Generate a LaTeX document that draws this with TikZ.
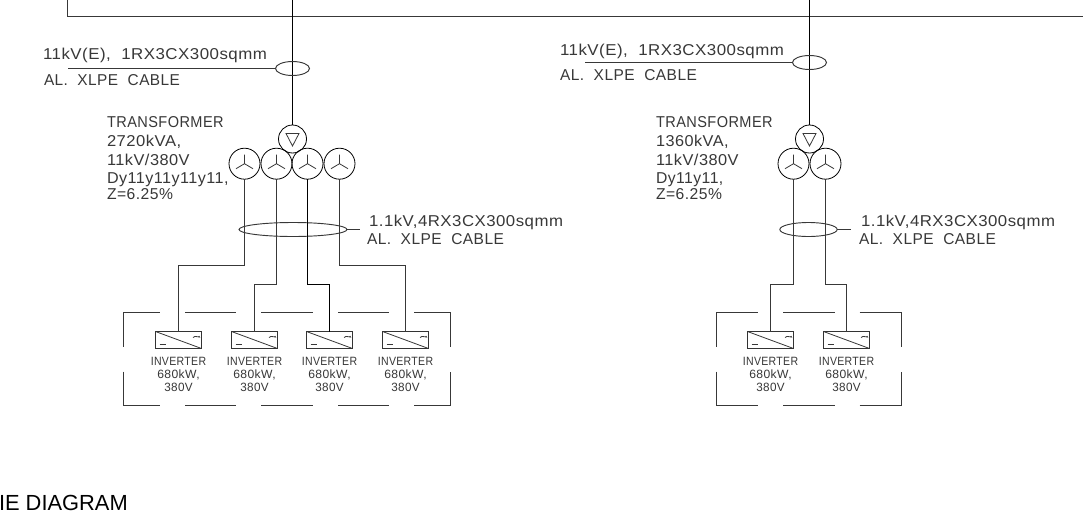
\documentclass[tikz,border=0pt]{standalone}
\usepackage{fontspec}
\usepackage{graphicx}
\setmainfont{Liberation Sans}
\newfontfamily\cadfont[LetterSpace=3]{Liberation Sans}
\usetikzlibrary{shapes.geometric}
\definecolor{ink}{gray}{0.22}
\newcommand{\fitw}[2]{\resizebox{#1pt}{\height}{#2}}
\tikzset{
  wire/.style={draw=ink,line width=0.8pt},
  hv/.style={draw=black,line width=0.75pt},
  thinw/.style={draw=ink,line width=0.6pt},
  lbl/.style={inner sep=0,outer sep=0,anchor=base west,text=ink,font=\cadfont\fontsize{11.8pt}{13pt}\selectfont},
  invlbl/.style={inner sep=0,outer sep=0,anchor=base,text=ink,font=\cadfont\fontsize{9pt}{10pt}\selectfont},
  prim/.style={circle,draw=black,line width=0.6pt,minimum size=21pt,inner sep=0,outer sep=0},
  sec/.style={circle,draw=black,line width=0.6pt,minimum size=23.25pt,inner sep=0,outer sep=0},
  cable/.style={ellipse,draw=ink,line width=0.7pt,inner sep=0,outer sep=0},
  invbox/.style={rectangle,draw=black!80,line width=0.75pt,minimum width=34.5pt,minimum height=12.75pt,inner sep=0,outer sep=0},
}
\newcommand{\wyesym}[1]{%
  \draw[thinw] (#1.center) -- ++(0,-9) (#1.center) -- ++(-8.5,5) (#1.center) -- ++(8.5,5);}
\newcommand{\deltasym}[1]{%
  \draw[thinw] ([shift={(-6.5,-5.5)}]#1.center) -- ([shift={(6.5,-5.5)}]#1.center) -- ([shift={(0,7)}]#1.center) -- cycle;}
\newcommand{\invsym}[1]{%
  \draw[thinw] (#1.north west) -- (#1.south east);
  \draw[thinw] ([shift={(4,-4)}]#1.south west) -- ++(6,0);
  \draw[thinw] ([shift={(-8.5,6)}]#1.north east) .. controls +(1.5,-3) and +(3,3) .. ++(6,-1.5);}
\begin{document}
\begin{tikzpicture}[x=0.75pt,y=-0.75pt]
\useasboundingbox (0,0) rectangle (1083,518);
\fill[white] (0,0) rectangle (1083,518);
% bus
\coordinate (busA) at (67.5,0);
\coordinate (busB) at (67.5,16.5);
\coordinate (busC) at (1083,16.5);
\draw[wire] (busA) -- (busB) -- (busC);
\coordinate (feedL) at (292.5,0);
\coordinate (feedR) at (809.5,0);
% left transformer
\node[prim] (tp1) at (292.5,139) {};
\node[sec] (s1) at (244.5,163.7) {};
\node[sec] (s2) at (276.5,163.7) {};
\node[sec] (s3) at (307.5,163.7) {};
\node[sec] (s4) at (339.5,163.7) {};
\deltasym{tp1}
\wyesym{s1}\wyesym{s2}\wyesym{s3}\wyesym{s4}
\draw[hv] (feedL) -- (tp1.north);
\node[cable,minimum width=25.5pt,minimum height=10.5pt] (c1) at (292.5,68.5) {};
\coordinate (c1end) at (68,68.5);
\draw[wire] (c1.west) -- (c1end);
\node[cable,minimum width=81pt,minimum height=10.5pt] (c2) at (293,229.5) {};
\coordinate (c2end) at (360,229.5);
\draw[wire] (c2.east) -- (c2end);
% left inverters
\node[invbox] (i1) at (178.5,340) {};
\node[invbox] (i2) at (254.5,340) {};
\node[invbox] (i3) at (329.5,340) {};
\node[invbox] (i4) at (405.5,340) {};
\invsym{i1}\invsym{i2}\invsym{i3}\invsym{i4}
\draw[wire] (s1.south) |- (i1.north |- 0,265.5) -- (i1.north);
\draw[wire] (s2.south) |- (i2.north |- 0,284.5) -- (i2.north);
\draw[hv]   (s3.south) |- (i3.north |- 0,284.5) -- (i3.north);
\draw[wire] (s4.south) |- (i4.north |- 0,265.5) -- (i4.north);
% left frame
\draw[wire] (123.5,346.7) -- (123.5,312.5) -- (160,312.5);
\draw[wire] (185,312.5) -- (236,312.5) (261,312.5) -- (313,312.5) (338,312.5) -- (389,312.5);
\draw[wire] (414,312.5) -- (450.5,312.5) -- (450.5,346.7);
\draw[wire] (123.5,371.7) -- (123.5,405.5) -- (160,405.5);
\draw[wire] (185,405.5) -- (236,405.5) (261,405.5) -- (313,405.5) (338,405.5) -- (389,405.5);
\draw[wire] (414,405.5) -- (450.5,405.5) -- (450.5,371.7);
% right transformer
\node[prim] (tp2) at (809.5,139) {};
\node[sec] (r1) at (793.5,163.7) {};
\node[sec] (r2) at (825.5,163.7) {};
\deltasym{tp2}
\wyesym{r1}\wyesym{r2}
\draw[hv] (feedR) -- (tp2.north);
\node[cable,minimum width=25.5pt,minimum height=10.5pt] (c3) at (809.5,62.5) {};
\coordinate (c3end) at (585,62.5);
\draw[wire] (c3.west) -- (c3end);
\node[cable,minimum width=43pt,minimum height=10.5pt] (c4) at (808.5,229.5) {};
\coordinate (c4end) at (851,229.5);
\draw[wire] (c4.east) -- (c4end);
\node[invbox] (j1) at (770.5,340) {};
\node[invbox] (j2) at (846.5,340) {};
\invsym{j1}\invsym{j2}
\draw[wire] (r1.south) |- (j1.north |- 0,284.5) -- (j1.north);
\draw[wire] (r2.south) |- (j2.north |- 0,284.5) -- (j2.north);
% right frame
\draw[wire] (716.5,346.7) -- (716.5,312.5) -- (758.3,312.5);
\draw[wire] (783,312.5) -- (835,312.5);
\draw[wire] (859.7,312.5) -- (901.5,312.5) -- (901.5,346.7);
\draw[wire] (716.5,371.7) -- (716.5,405.5) -- (758.3,405.5);
\draw[wire] (783,405.5) -- (835,405.5);
\draw[wire] (859.7,405.5) -- (901.5,405.5) -- (901.5,371.7);
% left text
\node[lbl] (t1) at (43,59.5) {\fitw{168}{11kV(E),\ \ 1RX3CX300sqmm}};
\node[lbl] (t2) at (44,85.5) {\fitw{102}{AL.\ \ XLPE\ \ CABLE}};
\node[lbl] (t3) at (107,127) {\fitw{87.5}{TRANSFORMER}};
\node[lbl] (t4) at (107,146.5) {\fitw{55.7}{2720kVA,}};
\node[lbl] (t5) at (107,165.5) {\fitw{62}{11kV/380V}};
\node[lbl] (t6) at (107,183) {\fitw{91.2}{Dy11y11y11y11,}};
\node[lbl] (t7) at (107,199.5) {\fitw{49.5}{Z=6.25\%}};
\node[lbl] (t8) at (369,226) {\fitw{145.5}{1.1kV,4RX3CX300sqmm}};
\node[lbl] (t9) at (367,244) {\fitw{102.7}{AL.\ \ XLPE\ \ CABLE}};
% right text
\node[lbl] (u1) at (560,55) {\fitw{168}{11kV(E),\ \ 1RX3CX300sqmm}};
\node[lbl] (u2) at (560,80.7) {\fitw{102.7}{AL.\ \ XLPE\ \ CABLE}};
\node[lbl] (u3) at (656,127) {\fitw{87.5}{TRANSFORMER}};
\node[lbl] (u4) at (656,146.5) {\fitw{54.5}{1360kVA,}};
\node[lbl] (u5) at (656,165.5) {\fitw{62}{11kV/380V}};
\node[lbl] (u6) at (656,183) {\fitw{50.5}{Dy11y11,}};
\node[lbl] (u7) at (656,199.5) {\fitw{49.5}{Z=6.25\%}};
\node[lbl] (u8) at (861,226) {\fitw{145.5}{1.1kV,4RX3CX300sqmm}};
\node[lbl] (u9) at (859,244) {\fitw{102.7}{AL.\ \ XLPE\ \ CABLE}};
% inverter text
\foreach \nm/\xx in {a/178.5,b/254.5,c/329.5,d/405.5,e/770.5,f/846.5}{
  \node[invlbl] (inv\nm1) at (\xx,365) {\fitw{41.5}{INVERTER}};
  \node[invlbl] (inv\nm2) at (\xx,378.3) {\fitw{31.7}{680kW,}};
  \node[invlbl] (inv\nm3) at (\xx,391.7) {\fitw{21.3}{380V}};
}
% title
\node[inner sep=0,outer sep=0,anchor=base west,text=black,font=\fontsize{16.4pt}{18pt}\selectfont] (title) at (-1,510) {IE DIAGRAM};
\end{tikzpicture}
\end{document}
